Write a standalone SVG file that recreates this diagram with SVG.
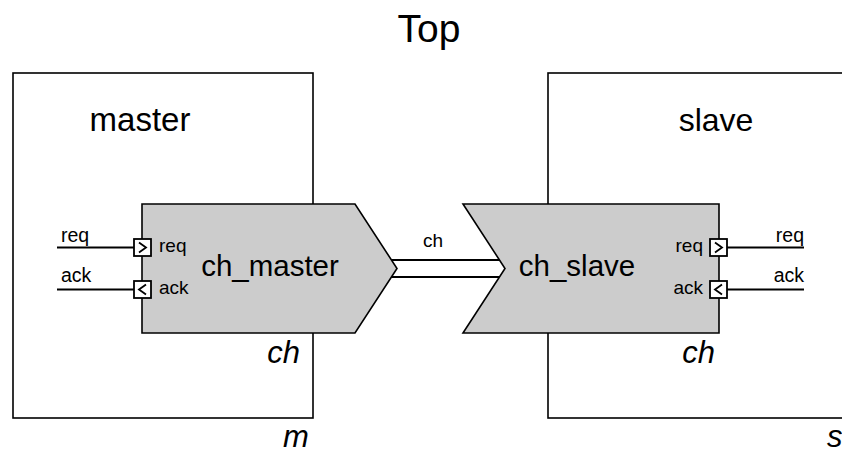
<svg xmlns="http://www.w3.org/2000/svg" width="842" height="454" viewBox="0 0 842 454">
<style>
text{font-family:"Liberation Sans",Arial,sans-serif;fill:#000}
.box{fill:#fff;stroke:#000;stroke-width:1.6}
.blk{fill:#cccccc;stroke:#000;stroke-width:1.6}
.port{fill:#fff;stroke:#000;stroke-width:1.8}
.chev{fill:none;stroke:#000;stroke-width:1.8}
.wire{stroke:#000;stroke-width:2;fill:none}
.pl{font-size:19px}
.it{font-style:italic;font-size:31px}
</style>
<rect width="842" height="454" fill="#fff"/>
<text x="429" y="42" font-size="39" text-anchor="middle">Top</text>
<g id="master">
<rect class="box" x="13" y="73" width="300" height="345"/>
<text x="140" y="131" font-size="33" text-anchor="middle">master</text>
<text class="it" x="283" y="447">m</text>
</g>
<g id="slave">
<rect class="box" x="548" y="73" width="320" height="345"/>
<text x="716" y="131" font-size="32" text-anchor="middle">slave</text>
<text class="it" x="827" y="447">s</text>
</g>
<g id="connectors">
<line class="wire" x1="391" y1="260" x2="500" y2="260"/>
<line class="wire" x1="391" y1="277" x2="500" y2="277"/>
<text x="433" y="247" font-size="19" text-anchor="middle">ch</text>
<line class="wire" x1="57" y1="247.5" x2="134" y2="247.5"/>
<line class="wire" x1="57" y1="289.5" x2="134" y2="289.5"/>
<text x="61" y="242" font-size="19.5">req</text>
<text x="61" y="282" font-size="19.5">ack</text>
<line class="wire" x1="727" y1="247.5" x2="804" y2="247.5"/>
<line class="wire" x1="727" y1="289.5" x2="804" y2="289.5"/>
<text x="804" y="242" font-size="19.5" text-anchor="end">req</text>
<text x="804" y="282" font-size="19.5" text-anchor="end">ack</text>
</g>
<g id="ch_master">
<polygon class="blk" points="142,204 355,204 397,268.5 355,333 142,333"/>
<text x="270" y="276" font-size="29.5" text-anchor="middle">ch_master</text>
<text class="it" x="300" y="363" text-anchor="end">ch</text>
<rect class="port" x="134" y="239" width="17" height="17"/>
<polyline class="chev" points="139,242.5 146,247.5 139,252.5"/>
<rect class="port" x="134" y="281" width="17" height="17"/>
<polyline class="chev" points="146,284.5 139,289.5 146,294.5"/>
<text class="pl" x="159" y="252">req</text>
<text class="pl" x="159" y="294">ack</text>
</g>
<g id="ch_slave">
<polygon class="blk" points="463,204 719,204 719,333 463,333 505,268.5"/>
<text x="577" y="276" font-size="29.5" text-anchor="middle">ch_slave</text>
<text class="it" x="715" y="363" text-anchor="end">ch</text>
<rect class="port" x="710" y="239" width="17" height="17"/>
<polyline class="chev" points="715,242.5 722,247.5 715,252.5"/>
<rect class="port" x="710" y="281" width="17" height="17"/>
<polyline class="chev" points="722,284.5 715,289.5 722,294.5"/>
<text class="pl" x="703" y="252" text-anchor="end">req</text>
<text class="pl" x="703" y="294" text-anchor="end">ack</text>
</g>
</svg>
